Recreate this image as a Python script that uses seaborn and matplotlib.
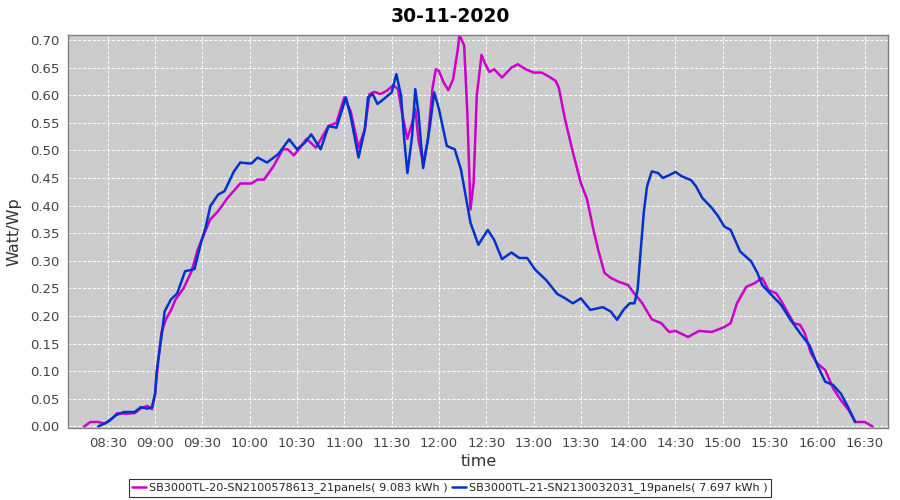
import pandas as pd
import seaborn as sns
import matplotlib.pyplot as plt
import matplotlib.dates as mdates

# inverter 1 (21 panels)
times_a = ["08:15", "08:19", "08:24", "08:28", "08:33", "08:36", "08:41", "08:47", "08:51", "08:55",
           "08:58", "09:00", "09:02", "09:04", "09:07", "09:10", "09:13", "09:18", "09:23", "09:27",
           "09:32", "09:35", "09:40", "09:46", "09:54", "10:01", "10:05", "10:09", "10:15", "10:21",
           "10:24", "10:28", "10:32", "10:36", "10:42", "10:50", "10:55", "11:00", "11:04", "11:09",
           "11:13", "11:16", "11:19", "11:23", "11:27", "11:31", "11:34", "11:37", "11:40", "11:43",
           "11:45", "11:47", "11:50", "11:53", "11:56", "11:58", "12:00", "12:03", "12:06", "12:09",
           "12:12", "12:13", "12:16", "12:18", "12:20", "12:22", "12:24", "12:27", "12:29", "12:32",
           "12:35", "12:40", "12:46", "12:50", "12:55", "13:00", "13:05", "13:09", "13:14", "13:16",
           "13:20", "13:25", "13:30", "13:34", "13:38", "13:41", "13:45", "13:49", "13:54", "14:00",
           "14:03", "14:09", "14:15", "14:21", "14:26", "14:30", "14:38", "14:45", "14:53", "15:01",
           "15:05", "15:09", "15:15", "15:20", "15:25", "15:29", "15:34", "15:38", "15:42", "15:45",
           "15:49", "15:52", "15:56", "16:00", "16:05", "16:10", "16:15", "16:20", "16:24", "16:30",
           "16:35"]
vals_a = [0.000, 0.008, 0.008, 0.005, 0.015, 0.024, 0.023, 0.024, 0.033, 0.037,
          0.031, 0.060, 0.120, 0.170, 0.195, 0.210, 0.230, 0.250, 0.280, 0.320,
          0.355, 0.375, 0.390, 0.414, 0.440, 0.440, 0.447, 0.447, 0.471, 0.502,
          0.502, 0.491, 0.505, 0.521, 0.505, 0.544, 0.550, 0.596, 0.571, 0.505,
          0.538, 0.602, 0.606, 0.602, 0.608, 0.618, 0.611, 0.562, 0.521, 0.550,
          0.575, 0.520, 0.475, 0.520, 0.614, 0.647, 0.644, 0.623, 0.609, 0.629,
          0.684, 0.709, 0.690, 0.569, 0.393, 0.441, 0.599, 0.673, 0.659, 0.642,
          0.647, 0.632, 0.650, 0.656, 0.647, 0.641, 0.641, 0.635, 0.626, 0.614,
          0.556, 0.496, 0.441, 0.411, 0.356, 0.320, 0.278, 0.269, 0.262, 0.256,
          0.244, 0.223, 0.194, 0.187, 0.171, 0.173, 0.162, 0.173, 0.171, 0.180,
          0.187, 0.223, 0.253, 0.259, 0.269, 0.247, 0.241, 0.223, 0.202, 0.187,
          0.184, 0.169, 0.132, 0.114, 0.102, 0.069, 0.047, 0.029, 0.008, 0.008,
          0.000]

# inverter 2 (19 panels)
times_b = ["08:24", "08:30", "08:35", "08:40", "08:47", "08:51", "08:55", "08:58", "09:00", "09:01",
           "09:04", "09:06", "09:10", "09:14", "09:19", "09:25", "09:29", "09:32", "09:35", "09:40",
           "09:44", "09:50", "09:54", "10:01", "10:05", "10:11", "10:18", "10:25", "10:30", "10:35",
           "10:39", "10:45", "10:50", "10:55", "11:01", "11:04", "11:09", "11:13", "11:15", "11:18",
           "11:21", "11:25", "11:30", "11:33", "11:36", "11:38", "11:40", "11:43", "11:45", "11:47",
           "11:50", "11:54", "11:57", "12:00", "12:05", "12:10", "12:14", "12:17", "12:20", "12:25",
           "12:31", "12:35", "12:40", "12:46", "12:51", "12:56", "13:01", "13:08", "13:15", "13:20",
           "13:25", "13:30", "13:36", "13:44", "13:49", "13:53", "13:57", "14:01", "14:04", "14:06",
           "14:08", "14:10", "14:12", "14:15", "14:19", "14:22", "14:26", "14:30", "14:34", "14:40",
           "14:43", "14:47", "14:53", "14:57", "15:01", "15:05", "15:11", "15:18", "15:22", "15:25",
           "15:30", "15:37", "15:43", "15:49", "15:55", "16:00", "16:05", "16:10", "16:15", "16:20",
           "16:24"]
vals_b = [0.000, 0.008, 0.020, 0.026, 0.026, 0.035, 0.032, 0.035, 0.059, 0.100,
          0.162, 0.208, 0.230, 0.241, 0.281, 0.285, 0.332, 0.360, 0.399, 0.420,
          0.426, 0.462, 0.478, 0.476, 0.487, 0.478, 0.493, 0.520, 0.502, 0.514,
          0.529, 0.502, 0.544, 0.541, 0.596, 0.562, 0.487, 0.538, 0.596, 0.602,
          0.584, 0.593, 0.605, 0.638, 0.599, 0.520, 0.459, 0.526, 0.611, 0.569,
          0.468, 0.538, 0.605, 0.575, 0.508, 0.502, 0.465, 0.417, 0.369, 0.329,
          0.356, 0.338, 0.303, 0.315, 0.305, 0.305, 0.284, 0.265, 0.240, 0.232,
          0.223, 0.232, 0.211, 0.216, 0.208, 0.193, 0.211, 0.223, 0.223, 0.247,
          0.320, 0.390, 0.435, 0.462, 0.459, 0.450, 0.455, 0.461, 0.453, 0.446,
          0.435, 0.414, 0.396, 0.381, 0.362, 0.356, 0.317, 0.299, 0.278, 0.256,
          0.241, 0.220, 0.193, 0.169, 0.147, 0.111, 0.081, 0.075, 0.059, 0.032,
          0.008]

name_a = "SB3000TL-20-SN2100578613_21panels( 9.083 kWh )"
name_b = "SB3000TL-21-SN2130032031_19panels( 7.697 kWh )"
day = "2020-11-30 "

df = pd.concat([
    pd.DataFrame({"time": pd.to_datetime([day + t for t in times_a]), "value": vals_a, "inverter": name_a}),
    pd.DataFrame({"time": pd.to_datetime([day + t for t in times_b]), "value": vals_b, "inverter": name_b}),
])

sns.set_style("white")
plt.rcParams['font.family'] = ['DejaVu Sans']

fig, ax = plt.subplots(figsize=(9, 5), dpi=100)
fig.subplots_adjust(left=0.076, right=0.987, top=0.93, bottom=0.145)

sns.lineplot(data=df, x="time", y="value", hue="inverter",
             palette={name_a: "#CC00CC", name_b: "#0033CC"},
             linewidth=1.8, ax=ax)

ax.set_facecolor("#CCCCCC")
ax.grid(True, color="white", linestyle=(0, (3, 2)), linewidth=0.7)
for s in ax.spines.values():
    s.set_color("#808080")
    s.set_linewidth(1.0)

ax.set_xlim(pd.Timestamp(day + "08:05"), pd.Timestamp(day + "16:45"))
ax.set_ylim(-0.002, 0.709)
ax.set_yticks([i * 0.05 for i in range(15)])
ax.yaxis.set_major_formatter(plt.FuncFormatter(lambda v, p: f"{v:.2f}"))
ax.xaxis.set_major_locator(mdates.MinuteLocator(byminute=[0, 30]))
ax.xaxis.set_major_formatter(mdates.DateFormatter("%H:%M"))
ax.set_xticks([t for t in ax.get_xticks() if t >= mdates.date2num(pd.Timestamp(day + "08:30"))])
ax.tick_params(axis="both", labelsize=9.5, colors="#444444", length=3, color="#888888")

fig.suptitle("30-11-2020", fontsize=13.5, fontweight="bold", color="black", x=0.5, y=0.985)
ax.set_xlabel("time", fontsize=11.5, color="#333333", labelpad=3)
ax.set_ylabel("Watt/Wp", fontsize=11.5, color="#333333", labelpad=6)

handles, labels = ax.get_legend_handles_labels()
ax.get_legend().remove()
leg = fig.legend(handles, labels, loc="center", bbox_to_anchor=(0.5, 0.024), ncol=2, fontsize=8.1,
                 frameon=True, fancybox=False, edgecolor="black", handlelength=1.2,
                 handletextpad=0.3, columnspacing=0.4, borderpad=0.3)
leg.get_frame().set_linewidth(0.8)

plt.savefig("out.png", dpi=100)
